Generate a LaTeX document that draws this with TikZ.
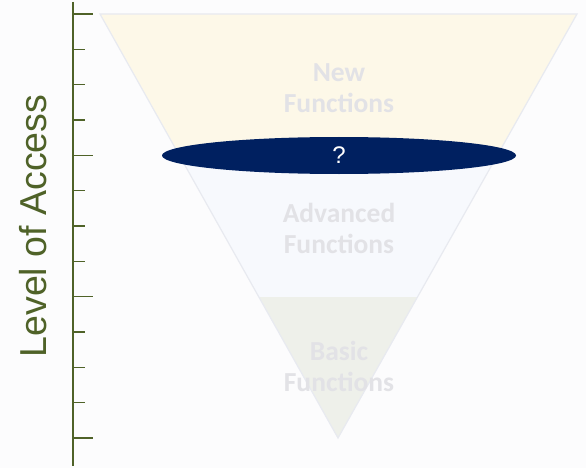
\documentclass[tikz,border=0pt]{standalone}
\usepackage{fontspec}
\setmainfont{Liberation Sans}
\newfontfamily\calib{Carlito}
\usetikzlibrary{shapes.geometric}
\definecolor{axisgreen}{RGB}{79,98,40}
\definecolor{navy}{RGB}{0,32,96}
\definecolor{bgc}{RGB}{252,252,253}
\definecolor{fyellow}{RGB}{253,248,232}
\definecolor{fblue}{RGB}{247,249,253}
\definecolor{fgreen}{RGB}{238,240,234}
\definecolor{edgec}{RGB}{232,234,240}
\definecolor{ftext}{RGB}{226,226,230}
\begin{document}
\begin{tikzpicture}[x=1pt,y=-1pt,
  axisline/.style={draw=axisgreen,line width=1.8pt},
  minortick/.style={draw=axisgreen,line width=1.5pt},
  majortick/.style={draw=axisgreen,line width=1.5pt},
  seglabel/.style={font=\calib\bfseries\fontsize{27.5}{31}\selectfont,text=ftext,align=center},
  edgeline/.style={draw=edgec,line width=1.2pt}]
\fill[bgc] (0,0) rectangle (586,468);
\useasboundingbox (0,0) rectangle (586,468);
% funnel sections
\fill[fyellow] (100,14) -- (577,14) -- (497.5,155) -- (179.1,155) -- cycle;
\fill[fblue] (179.1,155) -- (497.5,155) -- (417.5,297) -- (259.2,297) -- cycle;
\fill[fgreen] (259.2,297) -- (417.5,297) -- (338,438) -- cycle;
\draw[edgeline] (100,14) -- (577,14) -- (338,438) -- cycle;
% labels
\node[seglabel] (newf) at (339,88) {New\\Functions};
\node[seglabel] (advf) at (339,228) {Advanced\\Functions};
\node[seglabel] (basf) at (339,366) {Basic\\Functions};
% ellipse
\node[ellipse,fill=navy,minimum width=354pt,minimum height=37pt,inner sep=0pt,
  text=white,font=\fontsize{24}{26}\selectfont] (q) at (339,155.5) {?};
% axis
\coordinate (atop) at (73,2);
\coordinate (abot) at (73,466);
\draw[axisline] (atop) -- (abot);
\foreach \i in {0,...,12}{
  \pgfmathsetmacro{\yy}{14+\i*35.33}
  \pgfmathtruncatemacro{\m}{mod(\i,4)}
  \ifnum\m=0
    \draw[majortick] (73,\yy) -- (93,\yy);
  \else
    \draw[minortick] (73,\yy) -- (85,\yy);
  \fi
}
\node[rotate=90,text=axisgreen,font=\fontsize{37.5}{40}\selectfont] (lvl) at (33,226) {Level of Access};
\end{tikzpicture}
\end{document}
